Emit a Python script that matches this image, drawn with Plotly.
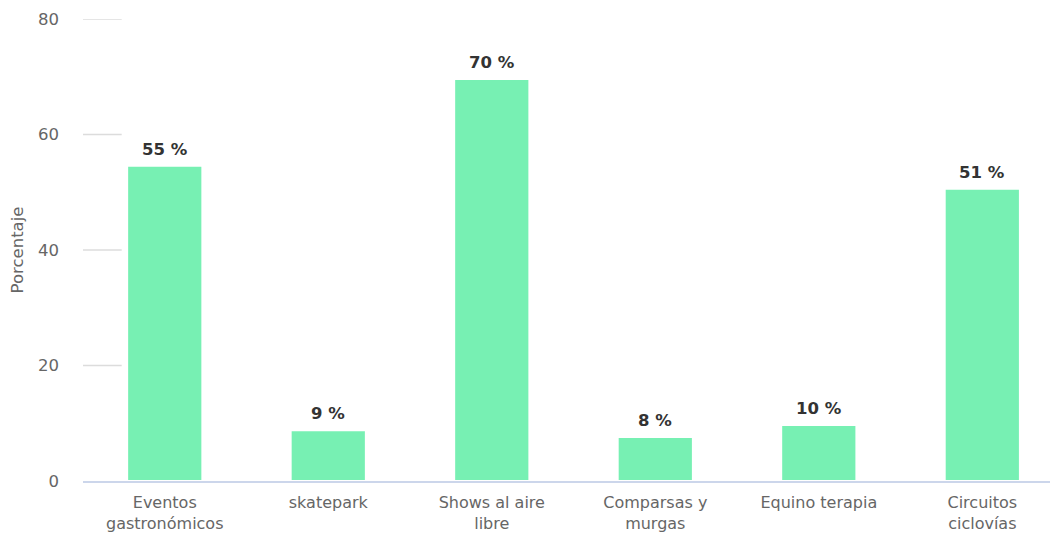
import plotly.graph_objects as go

categories = ["Eventos<br>gastronómicos", "skatepark", "Shows al aire<br>libre",
              "Comparsas y<br>murgas", "Equino terapia", "Circuitos<br>ciclovías"]
values = [54.6, 8.8, 69.6, 7.6, 9.7, 50.6]
y_ticks = [0, 20, 40, 60, 80]

FONT = "DejaVu Sans"
FS = 16.5

fig = go.Figure()
fig.add_trace(go.Bar(
    x=categories, y=values,
    marker=dict(color="#77f0b3", line=dict(color="#ffffff", width=2)),
    width=0.46,
    hoverinfo="x+y",
))

# value labels above bars
for c, v in zip(categories, values):
    fig.add_annotation(x=c, y=v, text=f"<b>{v:.0f} %</b>", showarrow=False,
                       yanchor="bottom", yshift=5,
                       font=dict(family=FONT, size=FS, color="#333333"))

# short gridlines at the left (as in reference)
for t in y_ticks[1:]:
    fig.add_shape(type="line", xref="paper", yref="y", x0=0, x1=0.04, y0=t, y1=t,
                  line=dict(color="#dcdcdc", width=1.5), layer="below")

fig.update_layout(
    width=1050, height=533,
    margin=dict(l=83, r=0, t=19, b=52),
    paper_bgcolor="white", plot_bgcolor="white",
    showlegend=False,
    font=dict(family=FONT, size=FS, color="#666666"),
    xaxis=dict(range=[-0.5, 5.414], showgrid=False, showline=True,
               linecolor="#ccd6eb", linewidth=1.5, layer="below traces",
               ticks="", ticklabelstandoff=6,
               tickfont=dict(family=FONT, size=16, color="#666666")),
    yaxis=dict(range=[0, 80], tickvals=y_ticks, showgrid=False, zeroline=False,
               title=dict(text="Porcentaje", font=dict(family=FONT, size=FS, color="#666666"),
                          standoff=10),
               ticks="", ticklabelstandoff=23,
               tickfont=dict(family=FONT, size=FS, color="#666666")),
    bargap=0.5,
)

fig.write_html("out.html")
